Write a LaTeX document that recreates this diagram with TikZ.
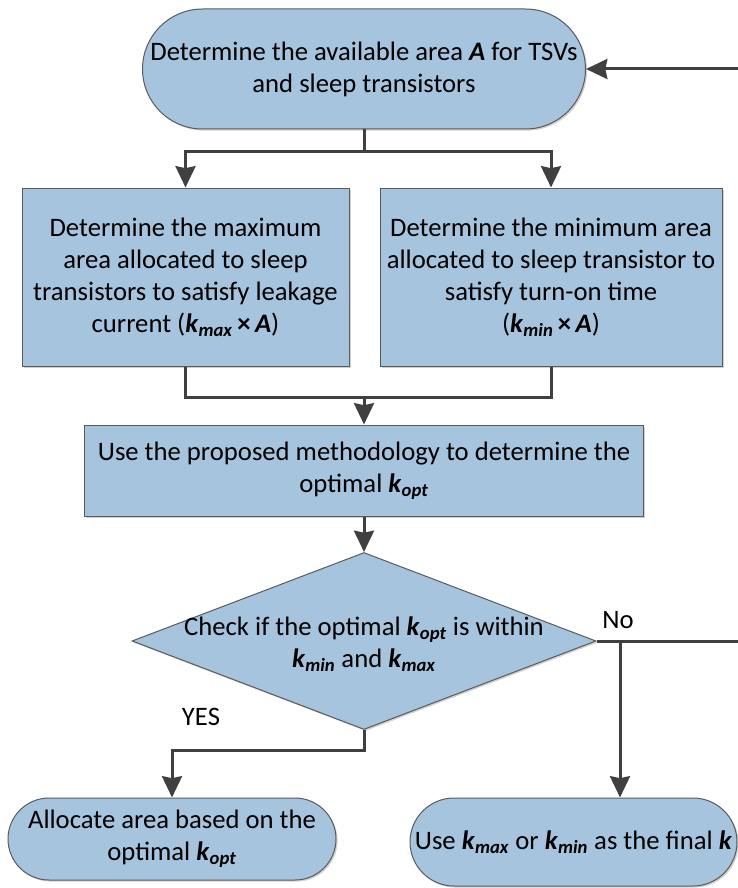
\documentclass[tikz,border=0pt]{standalone}
\usepackage{fontspec}
\setmainfont{Carlito}
\usetikzlibrary{shapes.geometric,shapes.misc,arrows.meta,shadows}

\definecolor{boxfill}{RGB}{166,196,222}
\definecolor{boxline}{RGB}{90,90,90}
\definecolor{wire}{RGB}{64,64,64}

% bold italic variable with a bold italic subscript
\newcommand\kvar[1]{\textbf{\textit{k}\textsubscript{\textit{#1}}}}
\newcommand\avar{\textbf{\textit{A}}}

\tikzset{
  every node/.style={font=\fontsize{20}{24}\selectfont, text=black},
  shade/.style={drop shadow={shadow xshift=1.2pt, shadow yshift=-1.2pt, opacity=0.3, fill=black!60}},
  terminal/.style={rounded rectangle, draw=boxline, line width=0.75pt, fill=boxfill,
    inner sep=0pt, align=center, shade},
  process/.style={rectangle, draw=boxline, line width=0.75pt, fill=boxfill,
    inner sep=0pt, align=center, shade},
  decision/.style={diamond, draw=boxline, line width=0.75pt, fill=boxfill,
    inner sep=0pt, shade},
  wireline/.style={draw=wire, line width=2.25pt},
  arr/.style={wireline, -{Stealth[length=16pt, width=15pt, inset=1.5pt]}},
  label/.style={align=center}
}

\begin{document}
\begin{tikzpicture}[x=0.75pt, y=-0.75pt]
  \useasboundingbox (0,0) rectangle (738,888);

  % nodes
  \node[terminal, minimum width=332.25pt, minimum height=90pt] (top) at (364,69)
    {Determine the available area \avar{} for TSVs\\and sleep transistors};
  \node[process, minimum width=245.25pt, minimum height=133.5pt] (left) at (185.5,277)
    {Determine the maximum\\area allocated to sleep\\transistors to satisfy leakage\\current (\kvar{max}\,\textbf{×}\,\avar)};
  \node[process, minimum width=256.5pt, minimum height=133.5pt] (right) at (551,277)
    {Determine the minimum area\\allocated to sleep transistor to\\satisfy turn-on time\\(\kvar{min}\,\textbf{×}\,\avar)};
  \node[process, minimum width=419.25pt, minimum height=68.25pt] (mid) at (364,470.5)
    {Use the proposed methodology to determine the\\optimal \kvar{opt}};
  \node[decision, minimum width=348pt, minimum height=132.75pt] (chk) at (364,641) {};
  \node[label] (chktext) at (364,644)
    {Check if the optimal \kvar{opt} is within\\\kvar{min} and \kvar{max}};
  \node[terminal, minimum width=246pt, minimum height=61.5pt] (bl) at (172,839)
    {Allocate area based on the\\optimal \kvar{opt}};
  \node[terminal, minimum width=245.25pt, minimum height=66pt] (br) at (573.5,842)
    {Use \kvar{max} or \kvar{min} as the final \textbf{\textit{k}}};

  \node (yes) at (201,717) {YES};
  \node (no) at (618,620) {No};

  % junction points
  \coordinate (loopin) at (738,69);
  \coordinate (split) at (364,152);
  \coordinate (join) at (364,397);
  \coordinate (yesbend) at (364,750);
  \coordinate (nofork) at (620,641);
  \coordinate (noout) at (738,641);

  % connectors
  \draw[arr] (loopin) -- (top.east);
  \draw[wireline] (top.south) -- (split);
  \draw[arr] (split) -| (left.north);
  \draw[arr] (split) -| (right.north);
  \draw[wireline] (left.south) |- (join);
  \draw[wireline] (right.south) |- (join);
  \draw[arr] (join) -- (mid.north);
  \draw[arr] (mid.south) -- (chk.north);
  \draw[arr] (chk.south) -- (yesbend) -| (bl.north);
  \draw[wireline] (chk.east) -- (noout);
  \draw[arr] (nofork) -- (nofork |- br.north);
\end{tikzpicture}
\end{document}
